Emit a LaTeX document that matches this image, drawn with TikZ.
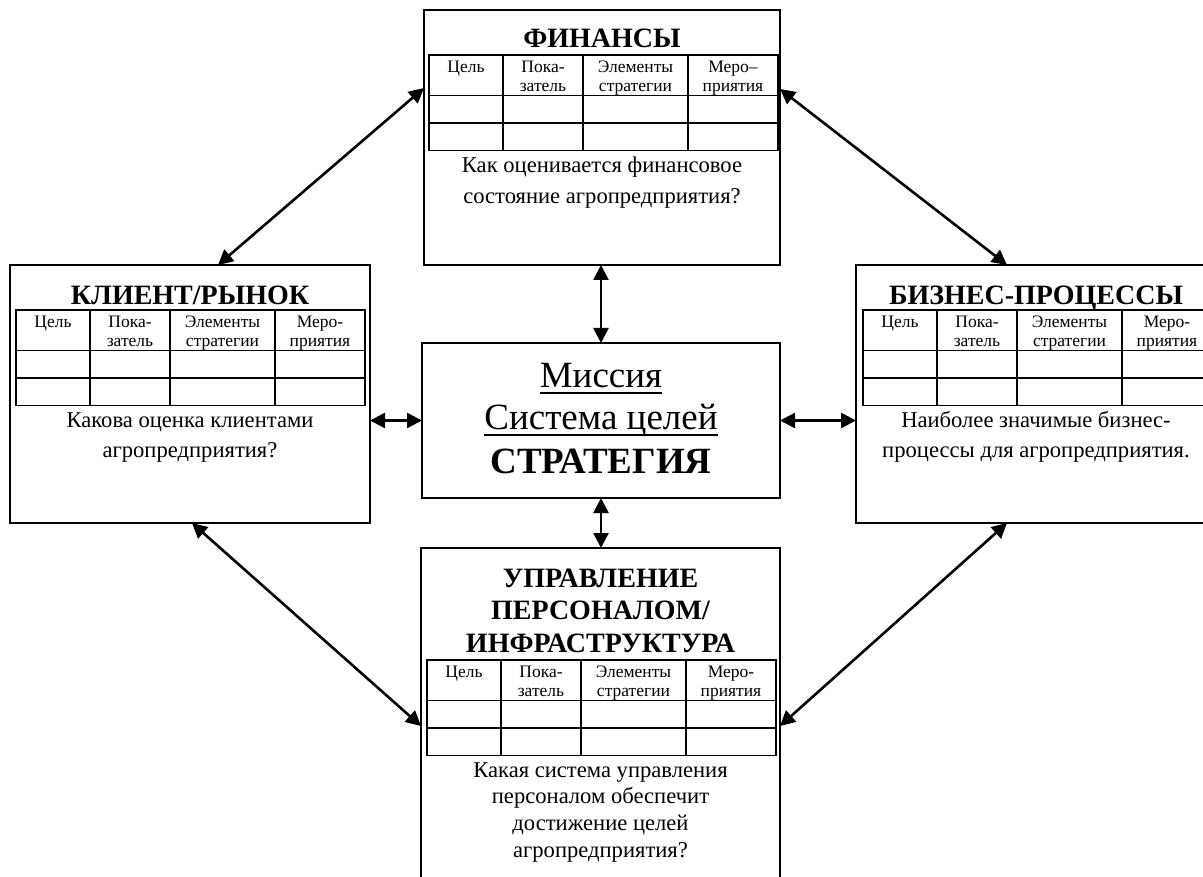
\documentclass[tikz,border=0pt]{standalone}
\usepackage{fontspec}
\setmainfont{Liberation Serif}
\usetikzlibrary{arrows.meta,calc}

% Small table with four columns used inside each perspective box
\newcommand{\bsctable}[4]{% #1 name prefix, #2 x, #3 y, #4 header of last column
\begin{scope}[shift={(#2,#3)}]
  \draw[grid] (0,0) rectangle (349,95.5);
  \draw[grid] (0,40.5) -- (349,40.5) (0,68) -- (349,68);
  \foreach \cx in {74,154,259} \draw[grid] (\cx,0) -- (\cx,95.5);
  \node[hd] (#1-h1)  at (37,17.5)    {Цель};
  \node[hd] (#1-h2a) at (114,17.5)   {Пока-};
  \node[hd] (#1-h2b) at (114,36.5)   {затель};
  \node[hd] (#1-h3a) at (206.5,17.5) {Элементы};
  \node[hd] (#1-h3b) at (206.5,36.5) {стратегии};
  \node[hd] (#1-h4a) at (304,17.5)   {#4};
  \node[hd] (#1-h4b) at (304,36.5)   {приятия};
\end{scope}}

\begin{document}
\begin{tikzpicture}[x=1pt,y=-1pt,
  box/.style={draw, line width=2.4pt, outer sep=0pt, inner sep=0pt, anchor=north west},
  grid/.style={line width=1.6pt},
  hd/.style={font=\fontsize{17.5}{19}\selectfont, anchor=base, inner sep=0pt},
  ttl/.style={font=\fontsize{28}{32}\selectfont\bfseries, anchor=base, inner sep=0pt},
  qtext/.style={font=\fontsize{22.6}{30}\selectfont, anchor=base, inner sep=0pt},
  big/.style={font=\fontsize{37}{42}\selectfont, anchor=base, inner sep=0pt},
  conn/.style={line width=2.6pt,
    {Triangle[length=15pt,width=15pt]}-{Triangle[length=15pt,width=15pt]}},
  uline/.style={line width=1.5pt}]
\useasboundingbox (0,0) rectangle (1203,877);
\clip (0,0) rectangle (1203,877);

% Perspective boxes and the central box
\node[box, minimum width=356pt, minimum height=255pt] (fin)    at (424,10)  {};
\node[box, minimum width=360pt, minimum height=258pt] (klient) at (10,265)  {};
\node[box, minimum width=360pt, minimum height=258pt] (biz)    at (856,265) {};
\node[box, minimum width=358pt, minimum height=155pt] (core)   at (422,343) {};
\node[box, minimum width=359pt, minimum height=340pt] (upr)    at (421,548) {};

% Финансы
\node[ttl] (fin-title) at (602,48) {ФИНАНСЫ};
\bsctable{fin}{429}{55}{Меро–}
\node[qtext] (fin-q1) at (602,173) {Как оценивается финансовое};
\node[qtext] (fin-q2) at (602,204) {состояние агропредприятия?};

% Клиент/рынок
\node[ttl] (kl-title) at (190,305) {КЛИЕНТ/РЫНОК};
\bsctable{kl}{16}{310}{Меро-}
\node[qtext] (kl-q1) at (190,428) {Какова оценка клиентами};
\node[qtext] (kl-q2) at (190,457) {агропредприятия?};

% Бизнес-процессы
\node[ttl] (bz-title) at (1036,305) {БИЗНЕС-ПРОЦЕССЫ};
\bsctable{bz}{863}{310}{Меро-}
\node[qtext] (bz-q1) at (1036,428) {Наиболее значимые бизнес-};
\node[qtext] (bz-q2) at (1036,457) {процессы для агропредприятия.};

% Миссия / система целей / стратегия
\node[big] (core-l1) at (601,388) {Миссия};
\node[big] (core-l2) at (601,430) {Система целей};
\node[big, font=\fontsize{37}{42}\selectfont\bfseries] (core-l3) at (601,473) {СТРАТЕГИЯ};
\draw[uline] ([yshift=-5pt]core-l1.base west) -- ([yshift=-5pt]core-l1.base east);
\draw[uline] ([yshift=-5pt]core-l2.base west) -- ([yshift=-5pt]core-l2.base east);

% Управление персоналом / инфраструктура
\node[ttl] (up-t1) at (600.5,587) {УПРАВЛЕНИЕ};
\node[ttl] (up-t2) at (600.5,619) {ПЕРСОНАЛОМ/};
\node[ttl] (up-t3) at (600.5,652) {ИНФРАСТРУКТУРА};
\bsctable{up}{427}{660}{Меро-}
\node[qtext] (up-q1) at (600.5,777) {Какая система управления};
\node[qtext] (up-q2) at (600.5,803) {персоналом обеспечит};
\node[qtext] (up-q3) at (600.5,830) {достижение целей};
\node[qtext] (up-q4) at (600.5,857) {агропредприятия?};

% Links to the centre
\draw[conn] (core.north) -- (core.north |- fin.south);
\draw[conn] (core.south) -- (core.south |- upr.north);
\draw[conn] (klient.east |- core.west) -- (core.west);
\draw[conn] (core.east) -- (biz.west |- core.east);

% Links between neighbouring perspectives
\draw[conn] ($(klient.north west)+(208,0)$) -- ($(fin.north west)+(0,78)$);
\draw[conn] ($(fin.north east)+(0,79)$) -- ($(biz.north west)+(151,0)$);
\draw[conn] ($(klient.south west)+(182,0)$) -- ($(upr.north west)+(0,178)$);
\draw[conn] ($(biz.south west)+(151,0)$) -- ($(upr.north east)+(0,178)$);
\end{tikzpicture}
\end{document}
